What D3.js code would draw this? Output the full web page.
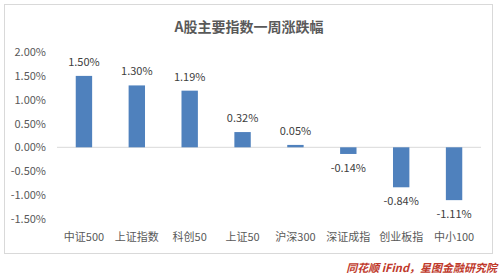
<!DOCTYPE html>
<html><head><meta charset="utf-8">
<script src="https://cdn.jsdelivr.net/npm/d3@7"></script>
<style>html,body{margin:0;padding:0;background:#fff;}svg{display:block;}</style>
</head><body>
<svg id="c" width="500" height="275"></svg>
<script>
const categories = ["中证500","上证指数","科创50","上证50","沪深300","深证成指","创业板指","中小100"];
const values = [1.50, 1.30, 1.19, 0.32, 0.05, -0.14, -0.84, -1.11];
const yTicks = [2.0, 1.5, 1.0, 0.5, 0.0, -0.5, -1.0, -1.5];
const title = "A股主要指数一周涨跌幅";
const source = "同花顺 iFind，星图金融研究院";

const svg = d3.select("#c");
const font = "'Noto Sans CJK SC','Microsoft YaHei',sans-serif";
const pct = d => d3.format(".2f")(d).replace("\u2212","-") + "%";

svg.append("rect").attr("x",4.5).attr("y",4.5).attr("width",488).attr("height",249)
  .attr("fill","#fff").attr("stroke","#d9d9d9");

svg.append("text").attr("x",249).attr("y",32).attr("text-anchor","middle")
  .attr("font-family",font).attr("font-size",14).attr("font-weight","bold")
  .attr("fill","#595959").text(title);

const x = d3.scaleBand().domain(categories).range([57.5,480.5]).paddingInner(0.69).paddingOuter(0.345);
const y = d3.scaleLinear().domain([-1.5,2.0]).range([218.7,52.1]);

const yAxis = d3.axisLeft(y).tickValues(yTicks).tickFormat(pct).tickSize(0).tickPadding(0);
const ga = svg.append("g").attr("transform","translate(46,0)").call(yAxis);
ga.select(".domain").remove();
ga.selectAll("text").attr("font-family",font).attr("font-size",11).attr("fill","#595959");

svg.append("line").attr("x1",57).attr("x2",481).attr("y1",y(0)).attr("y2",y(0))
  .attr("stroke","#d9d9d9").attr("stroke-width",1);

svg.selectAll("rect.bar").data(values).join("rect").attr("class","bar")
  .attr("x",(d,i)=>x(categories[i]))
  .attr("width",x.bandwidth())
  .attr("y",d=>y(Math.max(0,d)))
  .attr("height",d=>Math.abs(y(d)-y(0)))
  .attr("fill","#4f81bd");

svg.selectAll("text.vl").data(values).join("text").attr("class","vl")
  .attr("x",(d,i)=>x(categories[i])+x.bandwidth()/2)
  .attr("y",d=> d>=0 ? y(d)-10 : y(d)+18)
  .attr("text-anchor","middle").attr("font-family",font).attr("font-size",11).attr("fill","#404040")
  .text(pct);

const xAxis = d3.axisBottom(x).tickSize(0).tickPadding(0);
const gx = svg.append("g").attr("transform","translate(0,241)").call(xAxis);
gx.select(".domain").remove();
gx.selectAll("text").attr("font-family",font).attr("font-size",11).attr("fill","#595959").attr("dy",0);

svg.append("text").attr("x",497).attr("y",272).attr("text-anchor","end")
  .attr("font-family",font).attr("font-size",11).attr("font-style","italic").attr("font-weight","bold")
  .attr("fill","#c0392b").text(source);
</script>
</body></html>
